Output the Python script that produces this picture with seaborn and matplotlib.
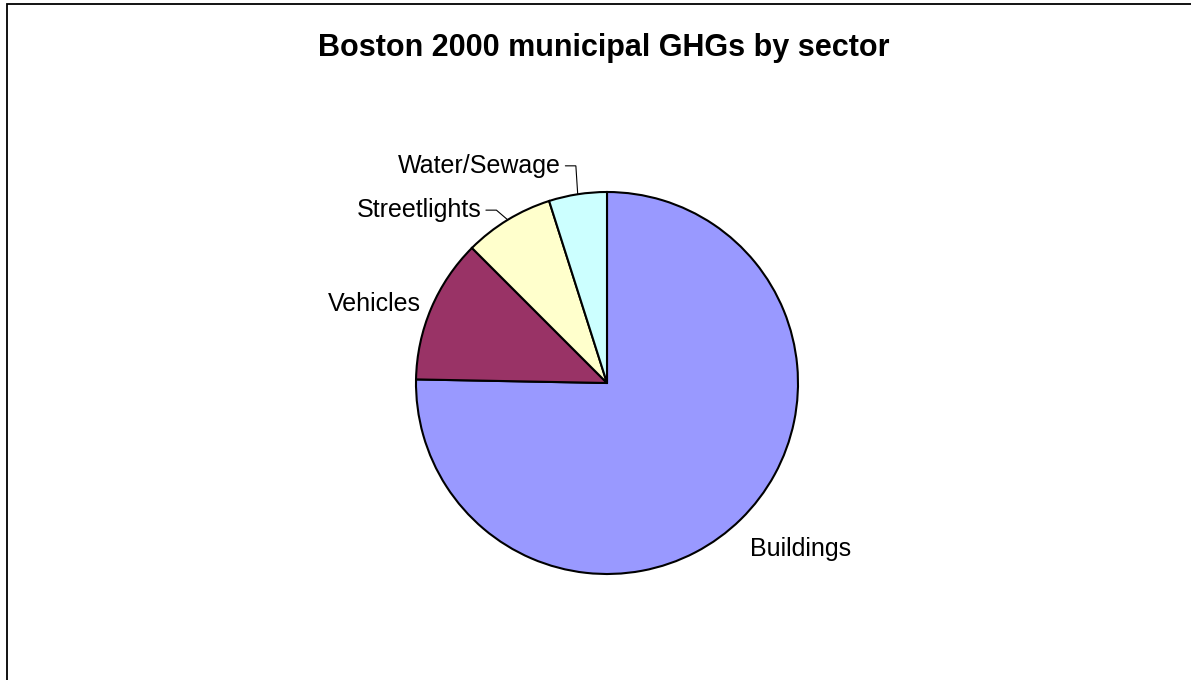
import numpy as np
import matplotlib
matplotlib.use("Agg")
import matplotlib.pyplot as plt
from matplotlib.patches import Rectangle
import seaborn as sns

# --- data (shares of municipal GHGs, %) ---
sectors = ["Buildings", "Vehicles", "Streetlights", "Water/Sewage"]
shares = [75.3, 12.2, 7.6, 4.9]
sector_colors = ["#9999FF", "#993366", "#FFFFCC", "#CCFFFF"]
title = "Boston 2000 municipal GHGs by sector"

sns.set_theme(style="white")
plt.rcParams["font.family"] = ["Liberation Sans", "DejaVu Sans"]
plt.rcParams["text.color"] = "black"

fig = plt.figure(figsize=(11.91, 6.8), dpi=100)
fig.patch.set_facecolor("white")

# pie axes: centre ~ (607, 383) px, radius ~191 px
half = 290
R = 191.0
cy = 383
ax = fig.add_axes([(607 - half) / 1191, (680 - cy - half) / 680,
                   2 * half / 1191, 2 * half / 680])

palette = sns.color_palette(sector_colors)
wedges, _ = ax.pie(shares, colors=palette, startangle=90, counterclock=False,
                   wedgeprops=dict(edgecolor="black", linewidth=1.5),
                   radius=1.0)

lim = half / R
ax.set_xlim(-lim, lim)
ax.set_ylim(-lim, lim)
ax.set_aspect("equal")
ax.axis("off")

lab_size = 18
# Buildings and Vehicles: plain labels beside the wedge
for w, name in zip(wedges, sectors):
    mid = np.deg2rad((w.theta1 + w.theta2) / 2)
    if name == "Buildings":
        ax.text(0.75, -0.87, name, ha="left", va="center", fontsize=lab_size)
    elif name == "Vehicles":
        r = 1.06
        ax.text(r * np.cos(mid), r * np.sin(mid), name, ha="right",
                va="center", fontsize=lab_size)
    else:
        # leader line from wedge edge to label
        ex, ey = np.cos(mid), np.sin(mid)
        if name == "Water/Sewage":
            kx, ky = -0.163, 1.137
        else:
            kx, ky = -0.579, 0.905
        hx = kx - 0.055
        ax.plot([ex, kx, hx], [ey, ky, ky], color="black", lw=0.8,
                solid_joinstyle="miter")
        ax.text(hx - 0.022, ky, name, ha="right", va="center",
                fontsize=lab_size)

fig.text(604 / 1191, 1 - 48 / 680, title, ha="center", va="center",
         fontsize=22, fontweight="bold")

# chart-area frame (only top and left edges fall inside the image)
fig.patches.append(Rectangle((7 / 1191, -0.2), 1.2, 1.2 - 4 / 680,
                             transform=fig.transFigure, fill=False,
                             edgecolor="black", linewidth=1.3))

fig.savefig("out.png", dpi=100, facecolor="white")
